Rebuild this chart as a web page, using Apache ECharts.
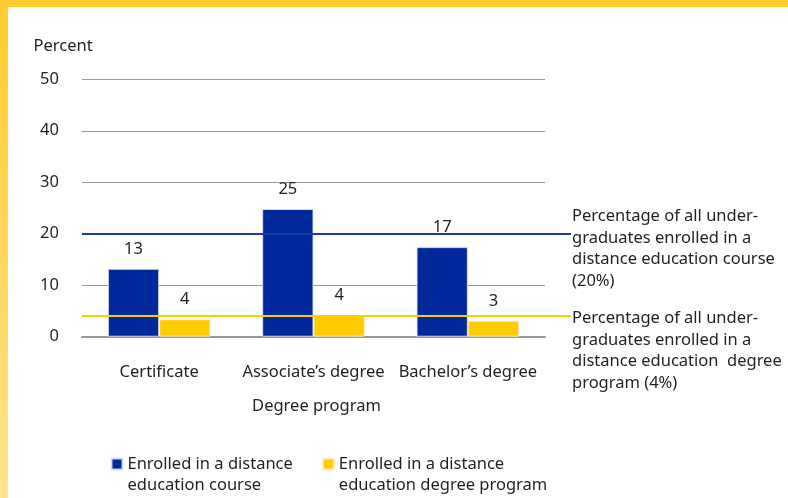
<!DOCTYPE html>
<html>
<head>
<meta charset="utf-8">
<script src="https://cdn.jsdelivr.net/npm/echarts@6/dist/echarts.min.js"></script>
<style>
  html, body { margin: 0; padding: 0; background: #fff; }
  #wrap { position: relative; width: 788px; height: 498px; overflow: hidden; background: #fff; }
  #topbar { position: absolute; left: 0; top: 0; width: 788px; height: 7px; background: #FFCC2E; }
  #leftbar { position: absolute; left: 0; top: 0; width: 8px; height: 498px; background: linear-gradient(#FFCC2E, #FFE38C); }
  #chart { position: absolute; left: 0; top: 0; width: 788px; height: 498px; }
</style>
</head>
<body>
<div id="wrap">
  <div id="chart"></div>
  <div id="topbar"></div>
  <div id="leftbar"></div>
</div>
<script>
const categories = ['Certificate', 'Associate\u2019s degree', 'Bachelor\u2019s degree'];
const courseValues = [13.2, 24.8, 17.4];
const programValues = [3.4, 4.2, 3.1];
const courseLabels = ['13', '25', '17'];
const programLabels = ['4', '4', '3'];
const yTicks = { min: 0, max: 50, interval: 10 };
const courseRef = 20;
const programRef = 4.1;
const seriesNames = ['Enrolled in a distance\neducation course', 'Enrolled in a distance\neducation degree program'];
const refTexts = [
  ['Percentage of all under-', 'graduates enrolled in a', 'distance education course', '(20%)'],
  ['Percentage of all under-', 'graduates enrolled in a', 'distance education\u00a0 degree', 'program (4%)']
];

const FONT = 'Noto Sans';
const FS = 16.5;
const TXT = '#231F20';
const BLUE = '#00289A';
const YELLOW = '#FFCC00';

function richLines(lines) {
  return '{s|\u00a0}\n' + lines.map(l => '{t|' + l + '}').join('\n');
}

const chart = echarts.init(document.getElementById('chart'), null, { renderer: 'canvas' });

const option = {
  backgroundColor: 'transparent',
  animation: false,
  textStyle: { fontFamily: FONT, color: TXT },
  title: {
    text: 'Percent',
    left: 33.5, top: 36, padding: 0,
    textStyle: { fontFamily: FONT, fontSize: FS, fontWeight: 'normal', color: TXT, lineHeight: 20 }
  },
  grid: { left: 82, right: 243, top: 79.3, bottom: 161.3, containLabel: false },
  legend: {
    left: 110.5, top: 431.5, padding: 0,
    itemWidth: 11, itemHeight: 11, itemGap: 29,
    icon: 'rect',
    selectedMode: false,
    data: seriesNames,
    formatter: name => '\n' + name,
    textStyle: { fontFamily: FONT, fontSize: FS, color: TXT, lineHeight: 21.7 }
  },
  xAxis: {
    type: 'category',
    data: categories,
    name: 'Degree program',
    nameLocation: 'middle',
    nameGap: 60,
    nameTextStyle: { fontFamily: FONT, fontSize: FS, color: TXT, lineHeight: 20, padding: [0, 0, 0, 6] },
    axisLine: { show: true, lineStyle: { color: '#999', width: 2 } },
    axisTick: { show: false },
    axisLabel: { fontFamily: FONT, fontSize: FS, color: TXT, margin: 26, lineHeight: 20, interval: 0 }
  },
  yAxis: {
    type: 'value',
    min: yTicks.min, max: yTicks.max, interval: yTicks.interval,
    axisLine: { show: false },
    axisTick: { show: false },
    axisLabel: { fontFamily: FONT, fontSize: FS, color: TXT, margin: 23 },
    splitLine: { lineStyle: { color: '#999', width: 1 } }
  },
  series: [
    {
      name: seriesNames[0],
      type: 'bar',
      data: courseValues,
      barWidth: 51.3,
      barGap: '0%',
      itemStyle: { color: BLUE, borderColor: 'rgba(220,225,240,0.9)', borderWidth: 1 },
      label: {
        show: true, position: 'top', distance: 11,
        fontFamily: FONT, fontSize: FS, color: TXT,
        formatter: p => courseLabels[p.dataIndex]
      },
      z: 2
    },
    {
      name: seriesNames[1],
      type: 'bar',
      data: programValues,
      barWidth: 51.3,
      barGap: '0%',
      itemStyle: { color: YELLOW, borderColor: 'rgba(255,240,200,0.9)', borderWidth: 1 },
      label: {
        show: true, position: 'top', distance: 11,
        fontFamily: FONT, fontSize: FS, color: TXT,
        formatter: p => programLabels[p.dataIndex]
      },
      markLine: {
        silent: true,
        symbol: 'none',
        animation: false,
        label: {
          show: true, position: 'end', distance: 1,
          fontFamily: FONT, fontSize: FS, color: TXT, align: 'left'
        },
        data: [
          [
            { yAxis: courseRef, x: 82, lineStyle: { color: '#1E3AA0', width: 2, type: 'solid' },
              label: { formatter: richLines(refTexts[0]),
                rich: { s: { lineHeight: 30, fontSize: 4 }, t: { fontFamily: FONT, fontSize: FS, color: TXT, lineHeight: 21.5 } } } },
            { yAxis: courseRef, x: 571 }
          ],
          [
            { yAxis: programRef, x: 82, lineStyle: { color: YELLOW, width: 2, type: 'solid' },
              label: { formatter: richLines(refTexts[1]),
                rich: { s: { lineHeight: 70.5, fontSize: 4 }, t: { fontFamily: FONT, fontSize: FS, color: TXT, lineHeight: 21.5 } } } },
            { yAxis: programRef, x: 571 }
          ]
        ]
      },
      z: 2
    }
  ]
};

chart.setOption(option);
</script>
</body>
</html>
